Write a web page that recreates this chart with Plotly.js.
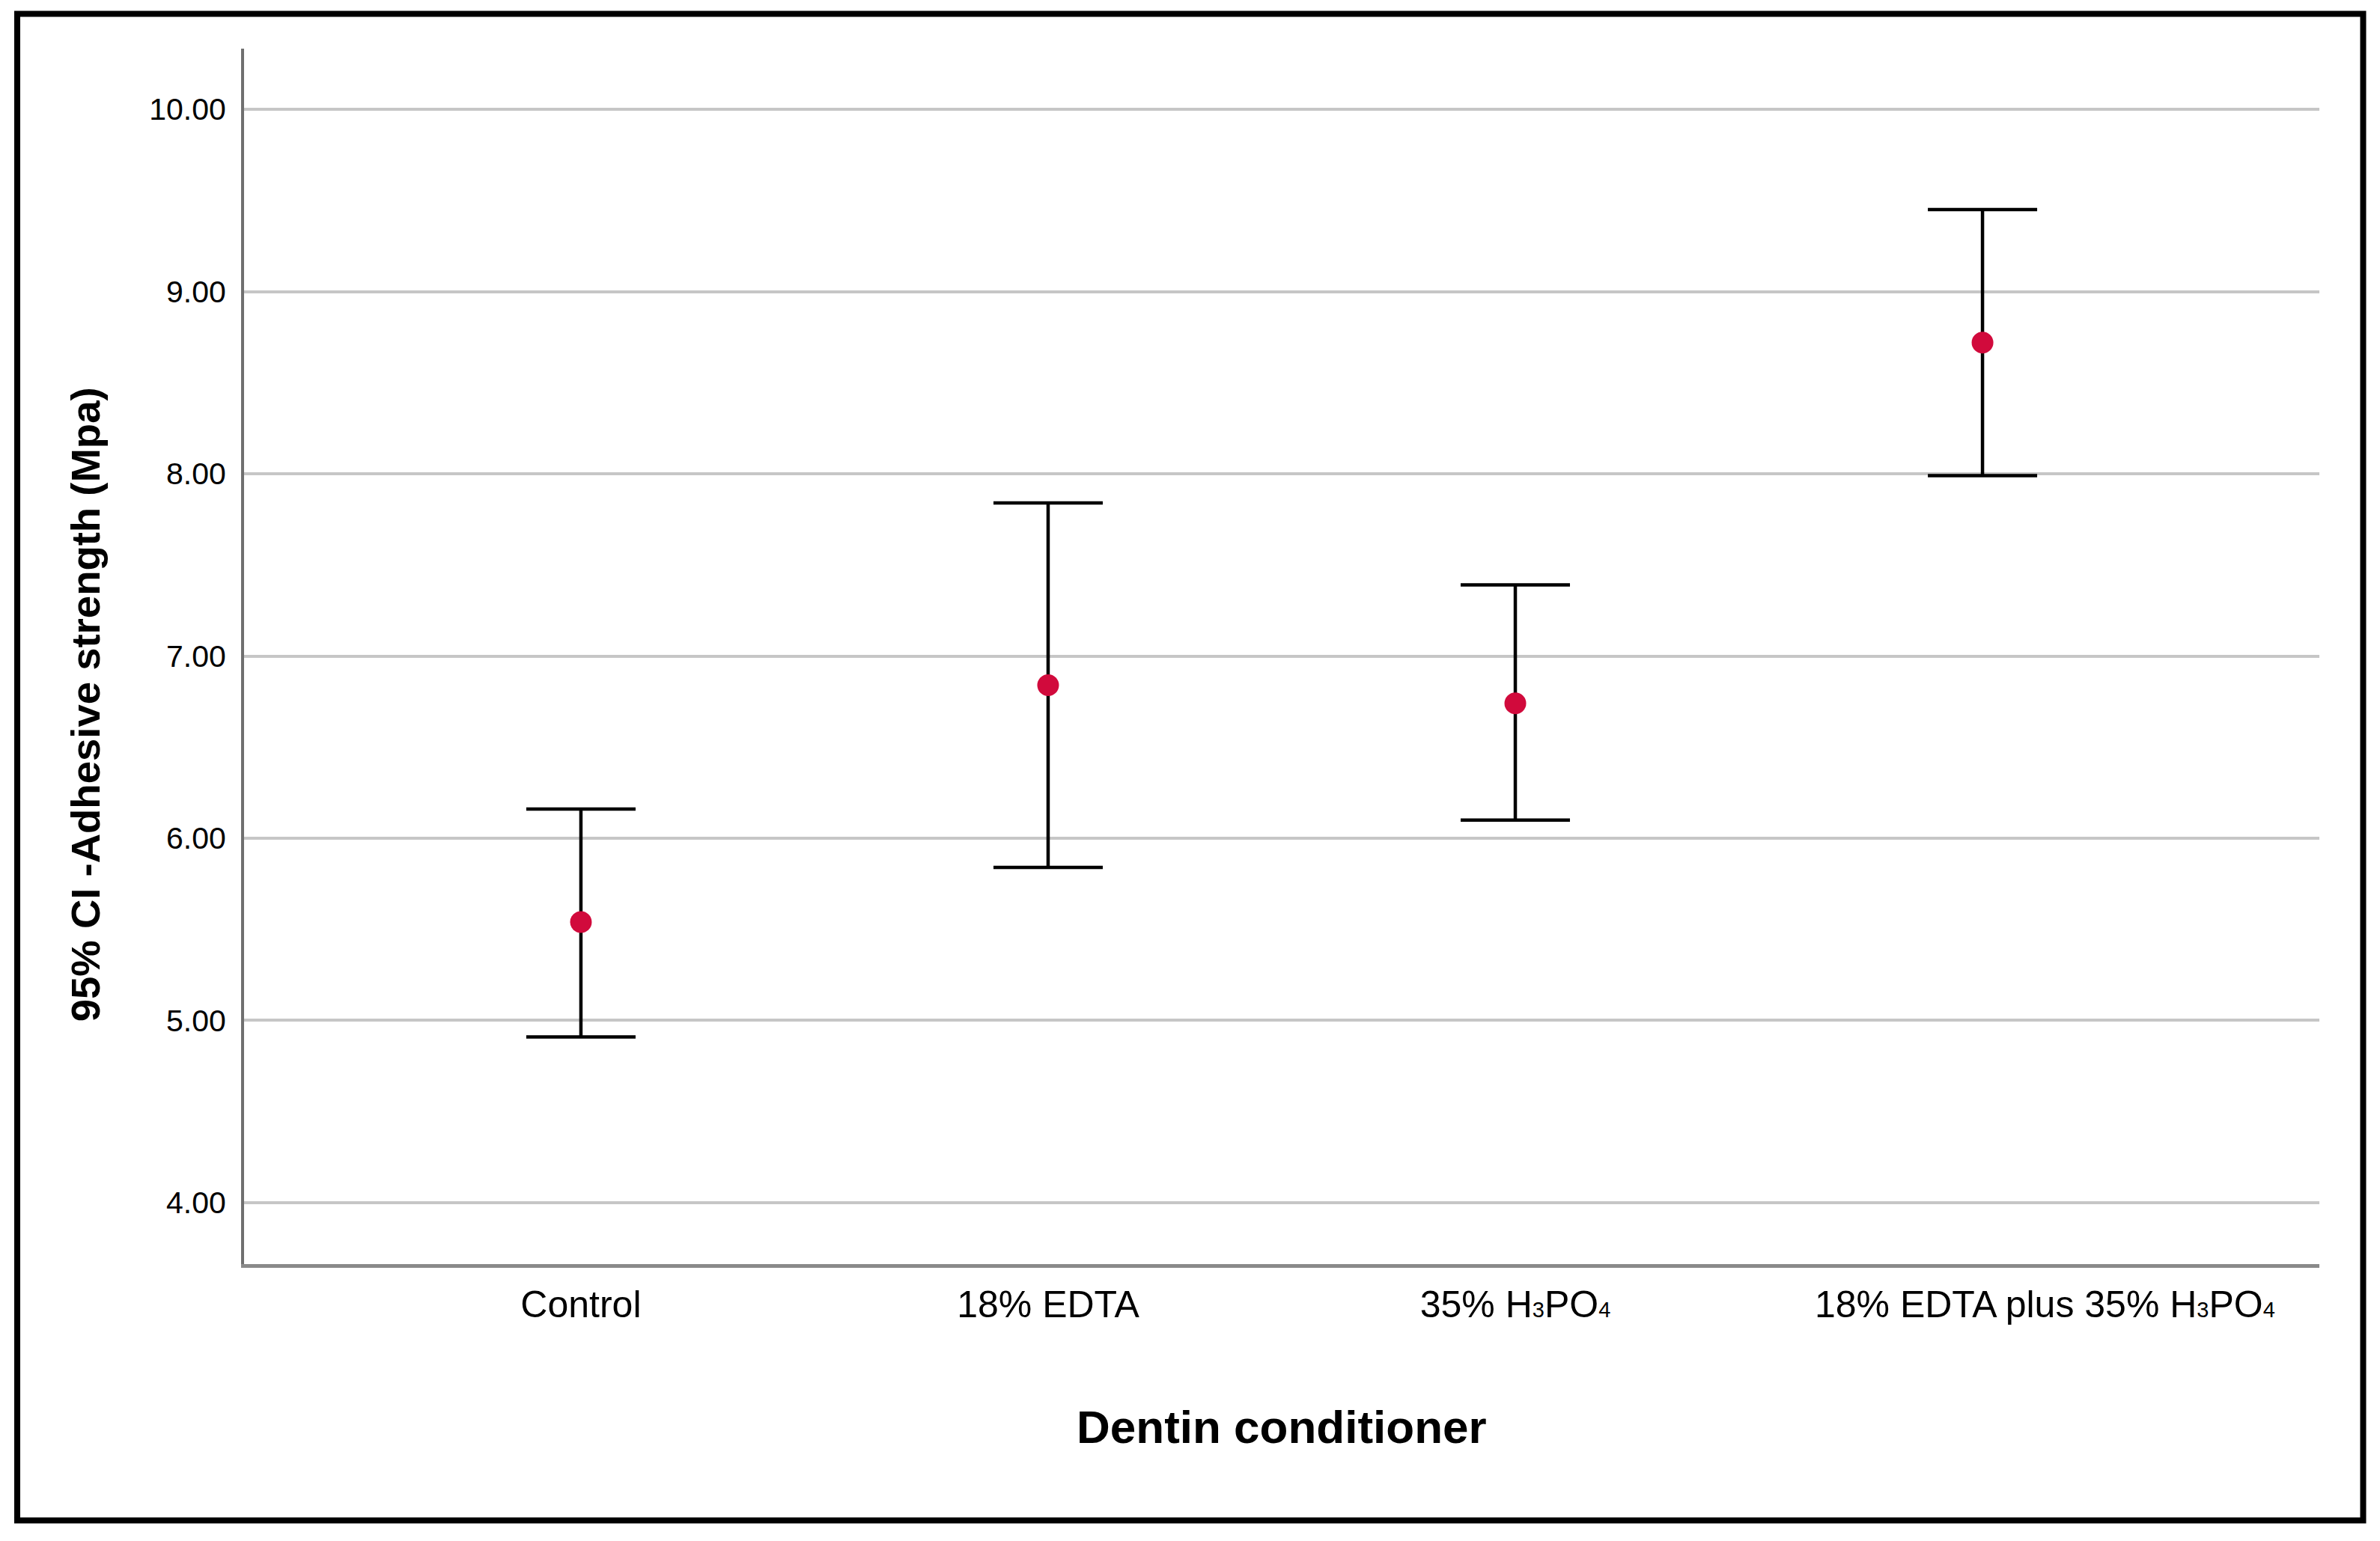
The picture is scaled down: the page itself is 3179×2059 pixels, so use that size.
<!DOCTYPE html>
<html>
<head>
<meta charset="utf-8">
<script src="https://cdn.plot.ly/plotly-3.0.1.min.js"></script>
<style>
html,body{margin:0;padding:0;background:#fff;}
#chart{width:3179px;height:2059px;}
</style>
</head>
<body>
<div id="chart"></div>
<script>
// ---- data ----
var categories = ["Control", "18% EDTA", "35% H3PO4", "18% EDTA plus 35% H3PO4"];
var categoryLabels = [
  "Control",
  "18% EDTA",
  "35% H<span style=\"font-size:29px\">3</span>PO<span style=\"font-size:29px\">4</span>",
  "&nbsp;&nbsp;&nbsp;&nbsp;&nbsp;&nbsp;&nbsp;&nbsp;&nbsp;&nbsp;&nbsp;&nbsp;18% EDTA plus 35% H<span style=\"font-size:29px\">3</span>PO<span style=\"font-size:29px\">4</span>"
];
var means = [5.54, 6.84, 6.74, 8.72];
var upperCI = [6.16, 7.84, 7.39, 9.45];
var lowerCI = [4.91, 5.84, 6.10, 7.99];
var yTicks = [4, 5, 6, 7, 8, 9, 10];
var yTickLabels = ["4.00", "5.00", "6.00", "7.00", "8.00", "9.00", "10.00"];

var xIdx = categories.map(function (c, i) { return i; });
var errPlus = means.map(function (m, i) { return upperCI[i] - m; });
var errMinus = means.map(function (m, i) { return m - lowerCI[i]; });

var FONT = "Liberation Sans, Arial, sans-serif";

var trace = {
  type: "scatter",
  mode: "markers",
  x: xIdx,
  y: means,
  marker: { color: "#D10A3C", size: 29, line: { width: 0 } },
  error_y: {
    type: "data",
    symmetric: false,
    array: errPlus,
    arrayminus: errMinus,
    color: "#000000",
    thickness: 4.5,
    width: 73
  },
  hoverinfo: "skip",
  showlegend: false
};

var layout = {
  width: 3179,
  height: 2059,
  margin: { l: 326, r: 81, t: 65, b: 370, pad: 0 },
  paper_bgcolor: "#ffffff",
  plot_bgcolor: "#ffffff",
  font: { family: FONT, color: "#000000" },
  xaxis: {
    range: [-0.721, 3.721],
    tickmode: "array",
    tickvals: xIdx,
    ticktext: categoryLabels,
    tickfont: { family: FONT, size: 50, color: "#000000" },
    ticks: "",
    ticklabelstandoff: 6,
    showgrid: false,
    zeroline: false,
    showline: true,
    linecolor: "#8a8a8a",
    linewidth: 5,
    fixedrange: true
  },
  yaxis: {
    range: [3.663, 10.333],
    tickmode: "array",
    tickvals: yTicks,
    ticktext: yTickLabels,
    tickfont: { family: FONT, size: 41, color: "#000000" },
    ticks: "",
    ticklabelstandoff: 12,
    showgrid: true,
    gridcolor: "#c6c6c6",
    gridwidth: 4,
    zeroline: false,
    showline: true,
    linecolor: "#707070",
    linewidth: 4,
    fixedrange: true
  },
  annotations: [
    {
      text: "<b>Dentin conditioner</b>",
      xref: "paper", yref: "paper",
      x: 0.5, y: -0.1342,
      xanchor: "center", yanchor: "middle",
      showarrow: false,
      font: { family: FONT, size: 62, color: "#000000" }
    },
    {
      text: "<b>95% CI -Adhesive strength (Mpa)</b>",
      xref: "paper", yref: "paper",
      x: -0.076, y: 0.4606,
      xanchor: "center", yanchor: "middle",
      textangle: -90,
      showarrow: false,
      font: { family: FONT, size: 54.5, color: "#000000" }
    }
  ],
  shapes: [
    {
      type: "rect",
      xref: "paper", yref: "paper",
      x0: -0.1093, x1: 1.0211,
      y0: -0.2109, y1: 1.0286,
      line: { color: "#000000", width: 8 },
      fillcolor: "rgba(0,0,0,0)",
      layer: "above"
    }
  ]
};

Plotly.newPlot("chart", [trace], layout, { displayModeBar: false, staticPlot: true });
</script>
</body>
</html>
